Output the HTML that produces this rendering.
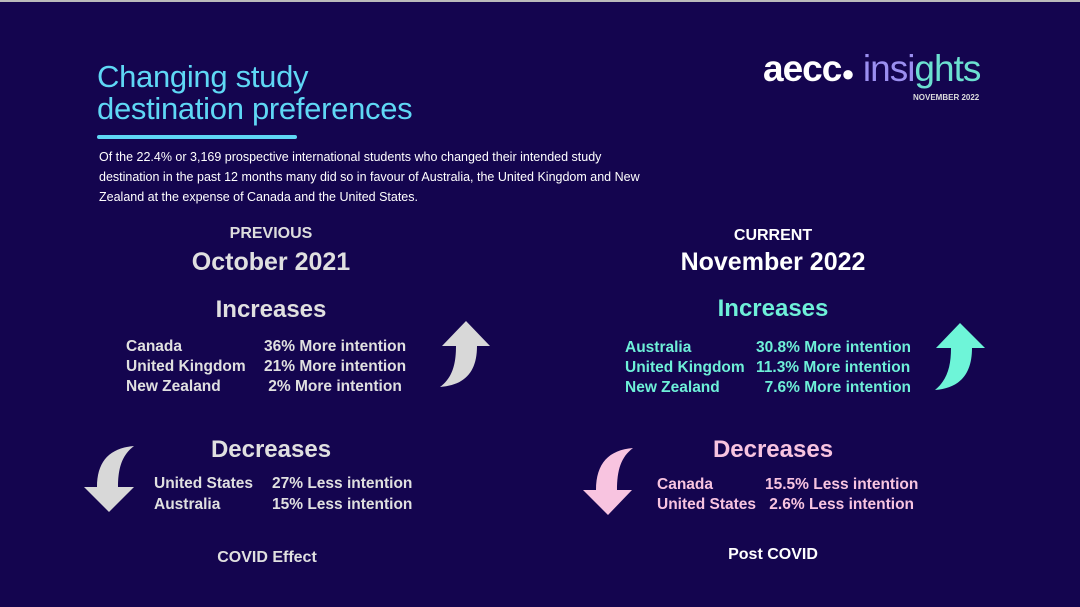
<!DOCTYPE html>
<html><head><meta charset="utf-8"><style>
body{margin:0;width:1080px;height:607px;background:#14054f;overflow:hidden;font-family:"Liberation Sans",sans-serif;position:relative}
div,span{position:absolute;white-space:nowrap}
.t{color:#5fd8f5;font-size:31px;left:97px;letter-spacing:-0.3px}
.p{left:99px;color:#fff;font-size:12.5px;line-height:20px;top:147px;white-space:normal;width:565px}
.c{text-align:center;width:300px}
.h{font-weight:bold}
.row{font-weight:bold;font-size:15.5px}
</style></head><body>
<div style="left:0;top:0;width:1080px;height:2px;background:#bbb"></div>
<div class="t" style="top:59px">Changing study</div>
<div class="t" style="top:91px">destination preferences</div>
<div style="left:97px;top:135px;width:200px;height:4px;background:#5fd8f5;border-radius:2px"></div>
<div class="p">Of the 22.4% or 3,169 prospective international students who changed their intended study destination in the past 12 months many did so in favour of Australia, the United Kingdom and New Zealand at the expense of Canada and the United States.</div>
<div style="left:763px;top:48px;font-size:37px;font-weight:bold;color:#fff;letter-spacing:-1px">aecc<span style="position:relative;color:#fff;font-size:22px">●</span> <span style="position:relative;color:#9b8ff0;font-weight:normal">insi</span><span style="position:relative;color:#6ce0d0;font-weight:normal">ghts</span></div>
<div style="left:913px;top:93px;font-size:8px;font-weight:bold;color:#ddd">NOVEMBER 2022</div>

<div class="c h" style="left:121px;top:225px;color:#ddd;font-size:16px">PREVIOUS</div>
<div class="c h" style="left:121px;top:248px;color:#e0e0e0;font-size:25px">October 2021</div>
<div class="c h" style="left:121px;top:296px;color:#e0e0e0;font-size:24px">Increases</div>
<div class="row" style="left:126px;top:337px;color:#e0e0e0;line-height:20px">Canada<br>United Kingdom<br>New Zealand</div>
<div class="row" style="left:264px;top:337px;color:#e0e0e0;line-height:20px">36% More intention<br>21% More intention<br>&nbsp;2% More intention</div>
<div class="c h" style="left:121px;top:436px;color:#e0e0e0;font-size:24px">Decreases</div>
<div class="row" style="left:154px;top:473px;color:#e0e0e0;line-height:21px">United States<br>Australia</div>
<div class="row" style="left:272px;top:473px;color:#e0e0e0;line-height:21px">27% Less intention<br>15% Less intention</div>
<div class="c h" style="left:117px;top:549px;color:#e0e0e0;font-size:16px">COVID Effect</div>

<div class="c h" style="left:623px;top:227px;color:#fff;font-size:16px">CURRENT</div>
<div class="c h" style="left:623px;top:248px;color:#fff;font-size:25px">November 2022</div>
<div class="c h" style="left:623px;top:295px;color:#6ef0d8;font-size:24px">Increases</div>
<div class="row" style="left:625px;top:338px;color:#6ef0d8;line-height:20px">Australia<br>United Kingdom<br>New Zealand</div>
<div class="row" style="left:756px;top:338px;color:#6ef0d8;line-height:20px">30.8% More intention<br>11.3% More intention<br>&nbsp;&nbsp;7.6% More intention</div>
<div class="c h" style="left:623px;top:436px;color:#f8c4e0;font-size:24px">Decreases</div>
<div class="row" style="left:657px;top:475px;color:#f8c4e0;line-height:20px">Canada<br>United States</div>
<div class="row" style="left:765px;top:475px;color:#f8c4e0;line-height:20px">15.5% Less intention<br>&nbsp;2.6% Less intention</div>
<div class="c h" style="left:623px;top:546px;color:#fff;font-size:16px">Post COVID</div>

<svg width="1080" height="607" style="position:absolute;left:0;top:0">
<path d="M466,321 L490,346 L477,346 C477,372 465,385 440,387 C452,378 456,365 456,346 L442,346 Z" fill="#d8d8d8"/>
<path d="M960,323 L985,348 L972,348 C972,374 960,388 935,390 C947,380 951,367 951,348 L936,348 Z" fill="#6ef5d8"/>
<path d="M109,512 L84,487 L97,487 C97,461 110,448 134,446 C122,455 118,468 118,487 L134,487 Z" fill="#d8d8d8"/>
<path d="M608,515 L583,490 L596,490 C596,463 609,450 633,448 C621,457 617,470 617,490 L632,490 Z" fill="#f8c4e0"/>
</svg>
</body></html>
